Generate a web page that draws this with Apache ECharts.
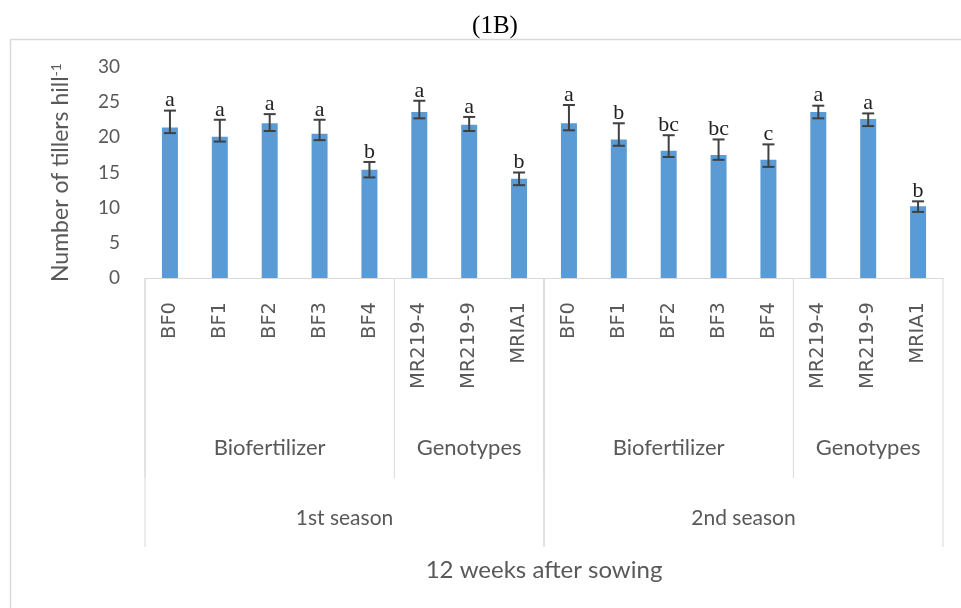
<!DOCTYPE html>
<html>
<head>
<meta charset="utf-8">
<script src="https://cdn.jsdelivr.net/npm/echarts@6/dist/echarts.min.js"></script>
<style>html,body{margin:0;padding:0;background:#fff}#c{width:961px;height:608px}</style>
</head>
<body>
<div id="c"></div>
<script>
// ---- data ----
const categories = ['BF0','BF1','BF2','BF3','BF4','MR219-4','MR219-9','MRIA1',
                    'BF0','BF1','BF2','BF3','BF4','MR219-4','MR219-9','MRIA1'];
const tillers = [21.4, 20.1, 22.0, 20.5, 15.4, 23.6, 21.8, 14.1,
                 22.0, 19.7, 18.1, 17.5, 16.8, 23.6, 22.6, 10.2];
const errLow  = [20.6, 19.4, 20.9, 19.6, 14.3, 22.7, 20.9, 13.2,
                 21.0, 18.8, 17.2, 16.8, 15.8, 22.7, 21.6, 9.4];
const errHigh = [23.8, 22.5, 23.3, 22.5, 16.5, 25.2, 22.9, 15.0,
                 24.6, 22.0, 20.3, 19.7, 19.0, 24.5, 23.4, 10.9];
const letters = ['a','a','a','a','b','a','a','b',
                 'a','b','bc','bc','c','a','a','b'];
const groupNames = ['Biofertilizer','Genotypes','Biofertilizer','Genotypes'];
const groupSizes = [5, 3, 5, 3];
const seasonNames = ['1st season','2nd season'];
const seasonSizes = [8, 8];
const yTicks = [0, 5, 10, 15, 20, 25, 30];

const GRAY = '#595959';
const LINE = '#d9d9d9';
const SANS = 'Lato';

const chart = echarts.init(document.getElementById('c'), null, {renderer: 'canvas'});

const errData = categories.map((c, i) => [i, errLow[i], errHigh[i]]);

chart.setOption({
  animation: false,
  title: {
    text: '(1B)', left: 490, top: 9, textAlign: 'center',
    textStyle: {fontFamily: 'Liberation Serif', fontSize: 25, fontWeight: 'normal', color: '#000'}
  },
  grid: {left: 145, right: 18, top: 67, bottom: 330},
  xAxis: {
    type: 'category',
    data: categories,
    axisLine: {lineStyle: {color: LINE, width: 1}},
    axisTick: {show: false},
    axisLabel: {
      rotate: 90, margin: 24, interval: 0,
      fontFamily: 'DejaVu Sans', fontSize: 19.5, color: GRAY
    },
    name: '12 weeks after sowing',
    nameLocation: 'middle',
    nameGap: 280,
    nameTextStyle: {fontFamily: SANS, fontSize: 24, color: GRAY}
  },
  yAxis: {
    type: 'value',
    min: yTicks[0], max: yTicks[yTicks.length - 1], interval: 5,
    axisLine: {show: false},
    axisTick: {show: false},
    splitLine: {show: false},
    axisLabel: {margin: 25, fontFamily: SANS, fontSize: 19, color: GRAY},
    name: 'Number of tillers hill{sup|-1}',
    nameLocation: 'middle',
    nameGap: 72,
    nameTextStyle: {
      fontFamily: SANS, fontSize: 23, color: GRAY,
      rich: {sup: {fontFamily: SANS, fontSize: 14, color: GRAY, verticalAlign: 'top', padding: [0, 0, 10, 0]}}
    }
  },
  series: [
    {
      type: 'bar',
      data: tillers,
      barWidth: 16,
      itemStyle: {color: '#5b9bd5'}
    },
    {
      type: 'custom',
      data: errData,
      z: 10,
      renderItem: function (params, api) {
        const i = api.value(0);
        const lo = api.coord([i, api.value(1)]);
        const hi = api.coord([i, api.value(2)]);
        const hw = 6;
        const st = {stroke: '#404040', lineWidth: 2};
        return {
          type: 'group',
          children: [
            {type: 'line', shape: {x1: lo[0], y1: lo[1], x2: hi[0], y2: hi[1]}, style: st},
            {type: 'line', shape: {x1: lo[0] - hw, y1: lo[1], x2: lo[0] + hw, y2: lo[1]}, style: st},
            {type: 'line', shape: {x1: hi[0] - hw, y1: hi[1], x2: hi[0] + hw, y2: hi[1]}, style: st},
            {type: 'text', style: {
              text: letters[params.dataIndex], x: hi[0], y: hi[1] + 1,
              align: 'center', verticalAlign: 'bottom',
              font: '22px "Liberation Serif"', fill: '#222'
            }}
          ]
        };
      }
    }
  ]
});

// ---- multi-level category axis decoration ----
function drawLevels() {
  const c0 = chart.convertToPixel({xAxisIndex: 0}, 0);
  const c1 = chart.convertToPixel({xAxisIndex: 0}, 1);
  const band = c1 - c0;
  const edge = k => c0 + (k - 0.5) * band;
  const axisY = chart.convertToPixel({yAxisIndex: 0}, 0);
  const els = [];
  const lineStyle = {stroke: LINE, lineWidth: 1};
  // outer border
  els.push({type: 'rect', shape: {x: 10.5, y: 39.5, width: 1000, height: 700},
            style: {fill: 'none', stroke: LINE, lineWidth: 1.5}, silent: true});
  // group separators & labels
  let k = 0;
  groupSizes.forEach((n, gi) => {
    const a = edge(k), b = edge(k + n);
    els.push({type: 'line', shape: {x1: a, y1: axisY, x2: a, y2: axisY + 200}, style: lineStyle});
    els.push({type: 'text', style: {text: groupNames[gi], x: (a + b) / 2, y: axisY + 170,
      align: 'center', verticalAlign: 'middle', font: '22px ' + SANS, fill: GRAY}});
    k += n;
  });
  // season separators & labels
  k = 0;
  seasonSizes.forEach((n, si) => {
    const a = edge(k), b = edge(k + n);
    els.push({type: 'line', shape: {x1: a, y1: axisY, x2: a, y2: axisY + 269}, style: lineStyle});
    els.push({type: 'line', shape: {x1: b, y1: axisY, x2: b, y2: axisY + 269}, style: lineStyle});
    els.push({type: 'text', style: {text: seasonNames[si], x: (a + b) / 2, y: axisY + 240,
      align: 'center', verticalAlign: 'middle', font: '21px ' + SANS, fill: GRAY}});
    k += n;
  });
  chart.setOption({graphic: {elements: els}});
}
drawLevels();
</script>
</body>
</html>
